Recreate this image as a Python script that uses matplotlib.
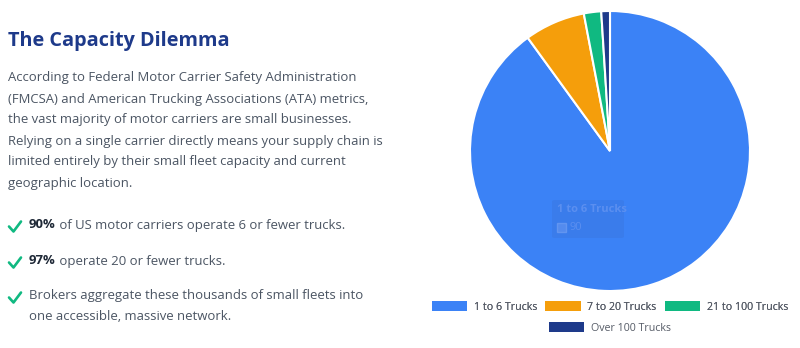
import matplotlib
matplotlib.use("Agg")
import matplotlib.pyplot as plt
from matplotlib.patches import Patch, FancyBboxPatch
from matplotlib.lines import Line2D

# --- datos ---
etiquetas = ["1 to 6 Trucks", "7 to 20 Trucks", "21 to 100 Trucks", "Over 100 Trucks"]
valores = [90, 7, 2, 1]
colores = ["#3b82f6", "#f59e0b", "#10b981", "#1e3a8a"]

titulo = "The Capacity Dilemma"
parrafo = [
    "According to Federal Motor Carrier Safety Administration",
    "(FMCSA) and American Trucking Associations (ATA) metrics,",
    "the vast majority of motor carriers are small businesses.",
    "Relying on a single carrier directly means your supply chain is",
    "limited entirely by their small fleet capacity and current",
    "geographic location.",
]
vinetas = [
    ("90%", " of US motor carriers operate 6 or fewer trucks."),
    ("97%", " operate 20 or fewer trucks."),
    ("", "Brokers aggregate these thousands of small fleets into\none accessible, massive network."),
]

plt.rcParams['font.family'] = ['Open Sans', 'DejaVu Sans']

W, H = 800, 348
fig = plt.figure(figsize=(W / 100, H / 100), dpi=100)
fig.patch.set_facecolor("white")

def fy(py):
    return 1 - py / H

gris = "#4b5563"
fs = 9.45

# --- texto izquierdo ---
fig.text(8 / W, fy(41), titulo, fontsize=14.3, fontweight='bold', color="#1e3a8a", va='center')
for i, linea in enumerate(parrafo):
    fig.text(8 / W, fy(78 + i * 21), linea, fontsize=fs, color=gris, va='center')

r = fig.canvas.get_renderer()
ys_vinetas = [225, 261, 296]
for (negrita, resto), yv in zip(vinetas, ys_vinetas):
    # marca de verificacion
    fig.add_artist(Line2D([9 / W, 13.5 / W, 21 / W], [fy(yv + 1.5), fy(yv + 6.5), fy(yv - 3.5)],
                          transform=fig.transFigure, color="#10b981", lw=1.9,
                          solid_capstyle='round', solid_joinstyle='round'))
    x0 = 29 / W
    if negrita:
        t = fig.text(x0, fy(yv), negrita, fontsize=fs, fontweight='bold', color="#1f2937", va='center')
        bb = t.get_window_extent(renderer=r)
        x0 = bb.x1 / W
    if '\n' in resto:
        for j, parte in enumerate(resto.split('\n')):
            fig.text(x0, fy(yv + j * 21), parte, fontsize=fs, color=gris, va='center')
    else:
        fig.text(x0, fy(yv), resto, fontsize=fs, color=gris, va='center')

# --- pastel ---
cx, cy, rad = 610, 151, 140
ax = fig.add_axes([(cx - rad) / W, fy(cy + rad), 2 * rad / W, 2 * rad / H])
ax.pie(valores, colors=colores, startangle=90, counterclock=False, radius=1,
       wedgeprops=dict(edgecolor='white', linewidth=1.5))
ax.set_xlim(-1.0, 1.0)
ax.set_ylim(-1.0, 1.0)
ax.set_aspect('equal')
ax.axis('off')

# tooltip desvanecido
tip = FancyBboxPatch((552 / W, fy(238)), 72 / W, 38 / H, boxstyle="round,pad=0,rounding_size=0.004",
                     transform=fig.transFigure, facecolor="#3a78e4", edgecolor='none', alpha=0.6)
fig.add_artist(tip)
fig.text(557 / W, fy(209), etiquetas[0], fontsize=8, fontweight='bold', color="#5b8ff0", va='center')
fig.add_artist(plt.Rectangle((557 / W, fy(232)), 9 / W, 9 / H, transform=fig.transFigure,
                             facecolor="#5b8ff0", edgecolor="#6a9af2", alpha=0.8))
fig.text(569 / W, fy(227), str(valores[0]), fontsize=8, color="#5b8ff0", va='center')

# --- leyenda ---
handles = [Patch(facecolor=c, edgecolor='none') for c in colores]
kw = dict(frameon=False, fontsize=7.7, handlelength=3.3, handleheight=0.95,
          handletextpad=0.65, columnspacing=0.75, labelcolor="#555b66",
          borderpad=0, borderaxespad=0)
leg1 = fig.legend(handles[:3], etiquetas[:3], loc='center', ncol=3,
                  bbox_to_anchor=(cx / W, fy(307)), **kw)
fig.add_artist(leg1)
fig.legend(handles[3:], etiquetas[3:], loc='center', ncol=1,
           bbox_to_anchor=(cx / W, fy(328)), **kw)

fig.savefig("out.png", dpi=100, facecolor="white")
